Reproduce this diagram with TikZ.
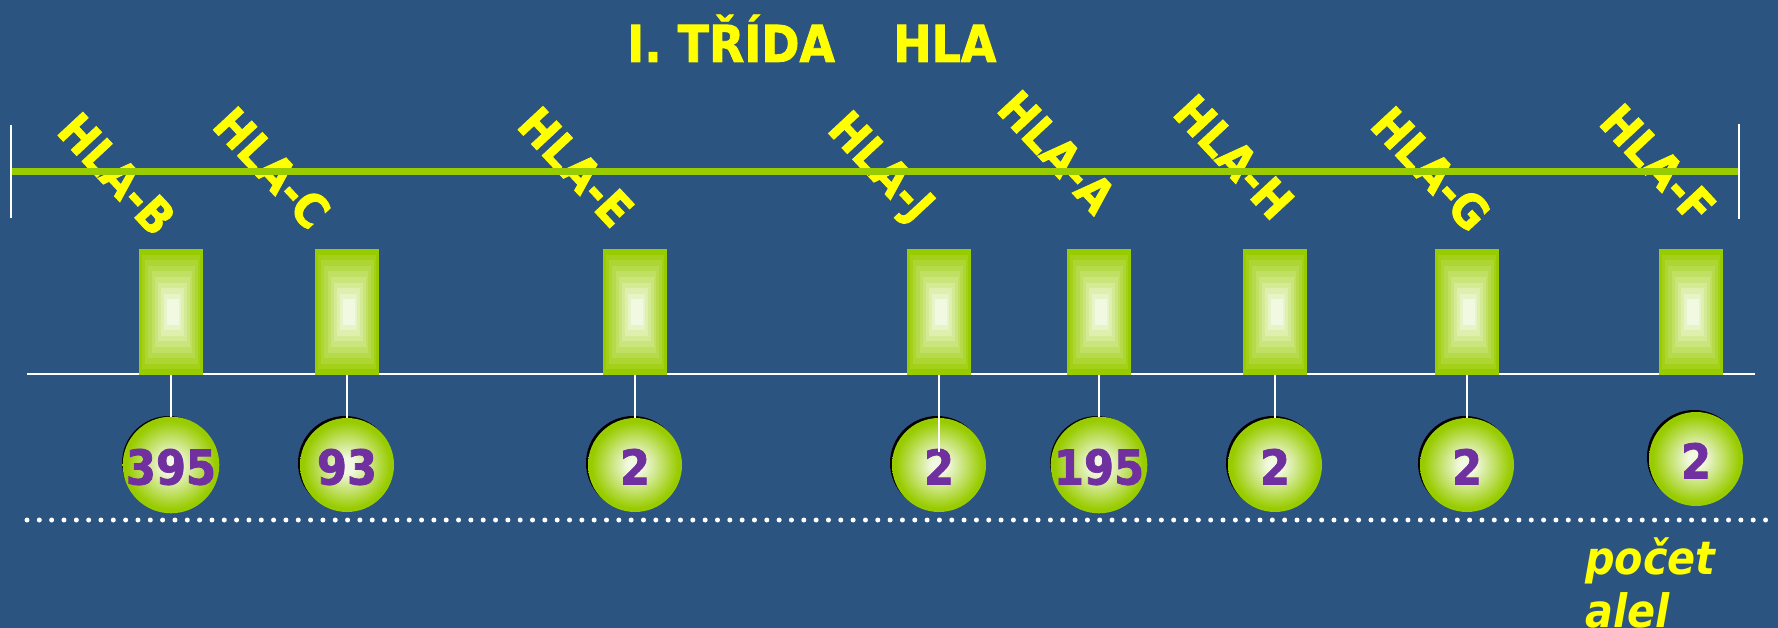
\documentclass[tikz,border=0pt]{standalone}
\usepackage{fontspec}
\newfontfamily\labfont{DejaVu Sans}[FakeStretch=0.9, BoldFeatures={FakeBold=1.6}]
\definecolor{bg}{RGB}{44,84,128}
\definecolor{limeg}{RGB}{153,204,0}
\definecolor{paleg}{RGB}{242,249,226}
\definecolor{purp}{RGB}{112,48,160}
\definecolor{yel}{RGB}{255,255,0}
\pgfdeclareradialshading{ball}{\pgfpoint{0bp}{0bp}}{color(0bp)=(paleg); color(4bp)=(paleg); color(23bp)=(limeg); color(50bp)=(limeg)}
\tikzset{
  lab/.style={text=yel, font=\labfont\bfseries\fontsize{47}{47}\selectfont, rotate=-47, inner sep=0pt, text height=34pt, text depth=0pt},
  title/.style={text=yel, font=\labfont\bfseries\fontsize{51}{51}\selectfont, inner sep=0pt, anchor=base west},
  gene/.style={rectangle, inner sep=0pt, minimum width=64pt, minimum height=126pt, fill=limeg,
    path picture={
      \foreach \i in {1,...,9}{
        \pgfmathsetmacro\hw{32*(1-0.82*\i/9)}
        \pgfmathsetmacro\hh{63*(1-0.8*\i/9)}
        \pgfmathsetmacro\sx{2*\i/9}
        \pgfmathtruncatemacro\pc{100*\i/9}
        \fill[paleg!\pc!limeg] ([shift={(\sx pt-\hw pt,-\hh pt)}]path picture bounding box.center) rectangle ([shift={(\sx pt+\hw pt,\hh pt)}]path picture bounding box.center);
      }}},
  ball/.style={circle, inner sep=0pt, minimum size=94pt, shade, shading=ball, text=purp,
    font=\labfont\bfseries\fontsize{48}{48}\selectfont, text height=35pt, text depth=0pt},
  rim/.style={fill=black},
  link/.style={draw=white, line width=2pt},
  whiteline/.style={draw=white, line width=2pt},
  greenline/.style={draw=limeg, line width=7pt},
  dotline/.style={draw=white, line width=5pt, line cap=round, dash pattern=on 0pt off 12.33pt},
  note/.style={text=yel, font=\labfont\bfseries\itshape\fontsize{46}{53}\selectfont, inner sep=0pt, anchor=base west, align=left}
}
\begin{document}
\begin{tikzpicture}[x=1pt,y=-1pt]
\useasboundingbox (0,0) rectangle (1778,628);
\fill[bg] (0,0) rectangle (1778,628);
% title
\node[title] (t1) at (627,62) {I. TŘÍDA};
\node[title] (t2) at (893,62) {HLA};
% labels
\foreach \n/\lx/\ly in {B/117/174, C/272/168, E/576/167, J/882/166, A/1057/152, H/1234/157, G/1431/169, F/1658/164}{
  \node[lab] (l\n) at (\lx,\ly) {HLA-\n};
}
% chromosome line
\coordinate (gl) at (11,172);
\coordinate (gr) at (1738,172);
\draw[greenline] (gl) -- (gr);
\coordinate (vl1) at (11,125); \coordinate (vl2) at (11,218);
\coordinate (vr1) at (1739,124); \coordinate (vr2) at (1739,219);
\draw[whiteline] (vl1) -- (vl2);
\draw[whiteline] (vr1) -- (vr2);
% white base line
\coordinate (wl) at (27,374);
\coordinate (wr) at (1755,374);
\draw[whiteline] (wl) -- (wr);
% dotted line
\coordinate (dl) at (27,520);
\coordinate (dr) at (1772,520);
\draw[dotline] (dl) -- (dr);
% genes
\foreach \n/\x in {B/171, C/347, E/635, J/939, A/1099, H/1275, G/1467, F/1691}{
  \node[gene] (r\n) at (\x,312) {};
}
% balls
\foreach \n/\x/\y/\v in {B/171/465/395, C/347/465/93, E/635/465/2, J/939/465/2, A/1099/465/195, H/1275/465/2, G/1467/465/2, F/1696/459/2}{
  \fill[rim] (\x-2,\y-2) circle (47pt);
  \node[ball] (c\n) at (\x,\y) {\raisebox{-2pt}{\v}};
}
% connectors
\foreach \n in {B,C,E,A,H,G}{
  \draw[link] (r\n.south) -- (c\n.north);
}
\coordinate (jEnd) at (939,452);
\draw[link] (rJ.south) -- (jEnd);
% note
\node[note] (pa) at (1585,627) {počet\\alel};
\end{tikzpicture}
\end{document}
